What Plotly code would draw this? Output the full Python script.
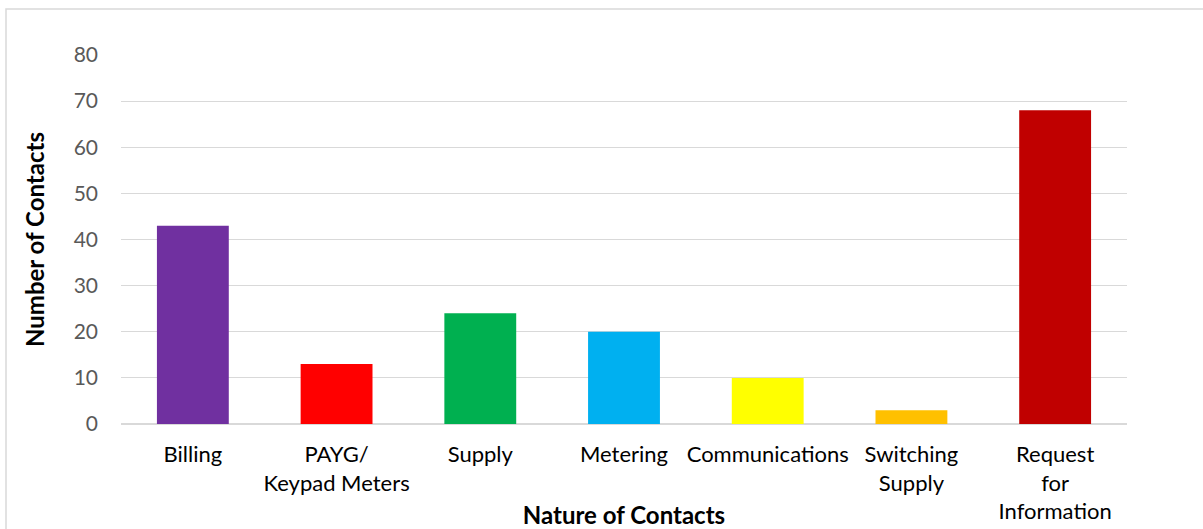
import plotly.graph_objects as go

# --- data ---
categories = ["Billing", "PAYG/<br>Keypad Meters", "Supply", "Metering",
              "Communications", "Switching<br>Supply", "Request<br>for<br>Information"]
contacts = [43, 13, 24, 20, 10, 3, 68]
bar_colors = ["#7030A0", "#FF0000", "#00B050", "#00B0F0", "#FFFF00", "#FFC000", "#C00000"]
y_ticks = [0, 10, 20, 30, 40, 50, 60, 70, 80]

W, H = 1203, 529
L, R, T, B = 121, 76, 55, 105
pw, ph = W - L - R, H - T - B

fig = go.Figure(go.Bar(
    x=categories,
    y=contacts,
    marker=dict(color=bar_colors, line=dict(width=0)),
    hoverinfo="x+y",
))

# light grey frame around the whole chart (runs off the right/bottom edge like the source)
fig.add_shape(
    type="rect", xref="paper", yref="paper",
    x0=(6 - L) / pw, x1=(W + 10 - L) / pw,
    y0=(T + ph - (H + 10)) / ph, y1=1 + (T - 9) / ph,
    line=dict(color="#D9D9D9", width=1.5), fillcolor="rgba(0,0,0,0)", layer="below",
)

fig.update_layout(
    width=W, height=H,
    margin=dict(l=L, r=R, t=T, b=B, autoexpand=False),
    plot_bgcolor="white", paper_bgcolor="white",
    bargap=0.5,
    showlegend=False,
    font=dict(family="Lato, 'Open Sans', sans-serif", color="#000000"),
    xaxis=dict(
        automargin=False,
        showgrid=False, showline=False, ticks="", ticklabelstandoff=15,
        tickfont=dict(size=22, color="#000000"),
        title=dict(text="<b>Nature of Contacts</b>", font=dict(size=24, color="#000000")),
    ),
    yaxis=dict(
        automargin=False,
        range=[0, 80], tickvals=y_ticks,
        showgrid=True, gridcolor="#D9D9D9", gridwidth=1.3,
        zeroline=True, zerolinecolor="#D9D9D9", zerolinewidth=1.5,
        showline=False, ticks="", ticklabelstandoff=22,
        tickfont=dict(size=21, color="#595959"),
        title=dict(text="<b>Number of Contacts</b>", font=dict(size=24, color="#000000"), standoff=22),
    ),
)

# drop the default page margin so the figure sits at the window's top-left corner
fig.write_html("out.html", config={"displayModeBar": False},
               post_script="document.body.style.margin='0';")
